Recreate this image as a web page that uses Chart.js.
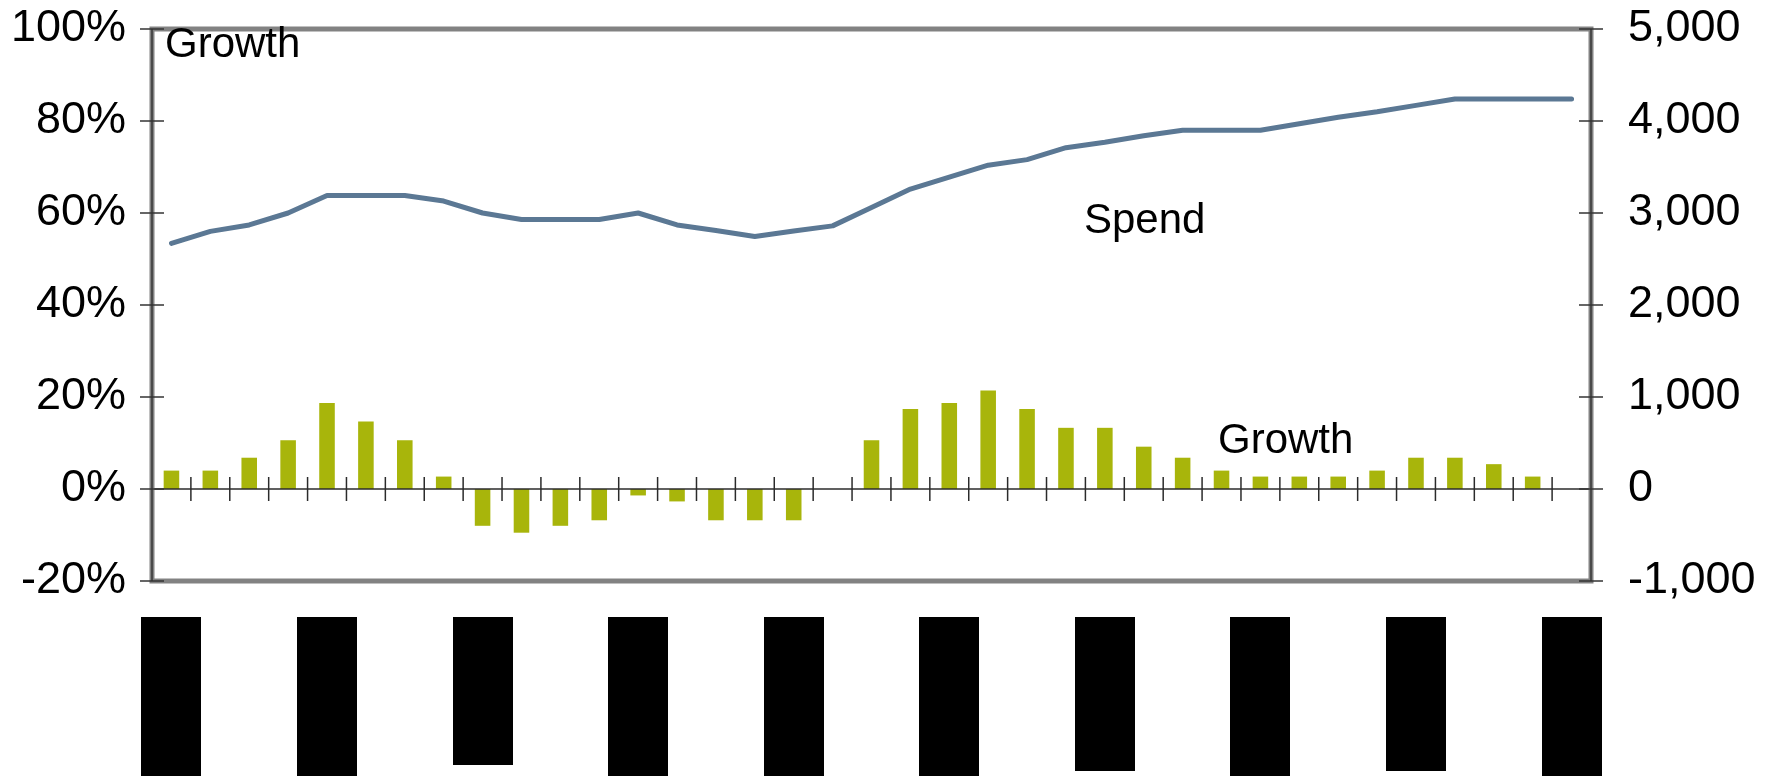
<!DOCTYPE html>
<html>
<head>
<meta charset="utf-8">
<script src="https://cdn.jsdelivr.net/npm/chart.js@4.4.1/dist/chart.umd.min.js"></script>
<style>
  html, body { margin: 0; padding: 0; background: #ffffff; }
  #wrap { width: 1781px; height: 776px; }
</style>
</head>
<body>
<div id="wrap"><canvas id="c" width="1781" height="776"></canvas></div>
<script>
// ---- data ----
const categories = ['P1','P2','P3','P4','P5','P6','P7','P8','P9','P10','P11','P12','P13','P14','P15','P16','P17','P18','P19','P20','P21','P22','P23','P24','P25','P26','P27','P28','P29','P30','P31','P32','P33','P34','P35','P36','P37'];
const growth = [4, 4, 6.8, 10.6, 18.7, 14.7, 10.6, 2.7, -8, -9.5, -8, -6.8, -1.4, -2.7, -6.8, -6.8, -6.8, null, 10.6, 17.4, 18.7, 21.4, 17.4, 13.3, 13.3, 9.2, 6.8, 4, 2.7, 2.7, 2.7, 4, 6.8, 6.8, 5.4, 2.7, null];
const spend = [2670, 2800, 2870, 3000, 3190, 3190, 3190, 3130, 3000, 2930, 2930, 2930, 3000, 2870, 2810, 2745, 2805, 2860, 3060, 3260, 3390, 3520, 3580, 3710, 3770, 3840, 3900, 3900, 3900, 3970, 4040, 4100, 4170, 4240, 4240, 4240, 4240];
const leftTicks = [-20, 0, 20, 40, 60, 80, 100];
const rightTicks = [-1000, 0, 1000, 2000, 3000, 4000, 5000];
const annotations = [
  { text: 'Growth', x: 165, y: 57 },
  { text: 'Spend', x: 1084, y: 233 },
  { text: 'Growth', x: 1218, y: 453 }
];
// redacted x-axis labels (every 4th category), drawn as black boxes
const redactedEvery = 4;
const redactBottoms = [776, 776, 765, 776, 776, 776, 771, 776, 771, 776];

const FONT = '"Liberation Sans", Arial, sans-serif';

const decor = {
  id: 'decor',
  afterDatasetsDraw(chart) {
    const ctx = chart.ctx;
    const a = chart.chartArea;
    const x = chart.scales.x, y = chart.scales.y, y1 = chart.scales.y1;
    ctx.save();
    // zero line
    const y0 = y.getPixelForValue(0);
    ctx.strokeStyle = '#2b2b2b';
    ctx.lineWidth = 1.6;
    ctx.beginPath(); ctx.moveTo(a.left, y0); ctx.lineTo(a.right, y0); ctx.stroke();
    // category boundary ticks crossing the zero line
    ctx.lineWidth = 1.5;
    for (let i = 1; i < categories.length; i++) {
      const bx = (x.getPixelForValue(i - 1) + x.getPixelForValue(i)) / 2;
      ctx.beginPath(); ctx.moveTo(bx, y0 - 12); ctx.lineTo(bx, y0 + 12); ctx.stroke();
    }
    // plot box
    ctx.strokeStyle = '#828282';
    ctx.lineWidth = 5;
    ctx.strokeRect(a.left, a.top, a.right - a.left, a.bottom - a.top);
    ctx.strokeStyle = '#4a4a4a';
    ctx.lineWidth = 2;
    ctx.beginPath();
    ctx.moveTo(a.left, a.top); ctx.lineTo(a.left, a.bottom);
    ctx.moveTo(a.right, a.top); ctx.lineTo(a.right, a.bottom);
    ctx.stroke();
    // y ticks crossing the axes
    ctx.strokeStyle = '#333333';
    ctx.lineWidth = 1.5;
    leftTicks.forEach(v => {
      const py = y.getPixelForValue(v);
      ctx.beginPath(); ctx.moveTo(a.left - 12, py); ctx.lineTo(a.left + 12, py); ctx.stroke();
    });
    rightTicks.forEach(v => {
      const py = y1.getPixelForValue(v);
      ctx.beginPath(); ctx.moveTo(a.right - 12, py); ctx.lineTo(a.right + 12, py); ctx.stroke();
    });
    ctx.restore();
  },
  afterDraw(chart) {
    const ctx = chart.ctx;
    const a = chart.chartArea;
    const x = chart.scales.x;
    ctx.save();
    ctx.fillStyle = '#000';
    ctx.font = '42px ' + FONT;
    ctx.textBaseline = 'alphabetic';
    ctx.textAlign = 'left';
    annotations.forEach(t => ctx.fillText(t.text, t.x, t.y));
    // redacted category labels
    let j = 0;
    for (let i = 0; i < categories.length; i += redactedEvery) {
      const cx = x.getPixelForValue(i);
      const top = a.bottom + 36;
      const bottom = redactBottoms[j++] || 776;
      ctx.fillRect(Math.round(cx - 30), top, 60, bottom - top);
    }
    ctx.restore();
  }
};

function fixY(width) {
  return function (s) { s.width = width; s.paddingTop = 0; s.paddingBottom = 0; };
}

new Chart(document.getElementById('c'), {
  data: {
    labels: categories,
    datasets: [
      {
        type: 'line',
        label: 'Spend',
        data: spend,
        yAxisID: 'y1',
        borderColor: '#5b7894',
        borderWidth: 5,
        pointRadius: 0,
        tension: 0,
        borderCapStyle: 'round',
        borderJoinStyle: 'round',
        order: 0
      },
      {
        type: 'bar',
        label: 'Growth',
        data: growth,
        yAxisID: 'y',
        backgroundColor: '#a8b50b',
        borderWidth: 0,
        barPercentage: 0.4,
        categoryPercentage: 1.0,
        order: 1
      }
    ]
  },
  options: {
    responsive: false,
    animation: false,
    devicePixelRatio: 1,
    layout: { padding: { top: 29, left: 0, right: 0, bottom: 0 } },
    plugins: { legend: { display: false }, tooltip: { enabled: false } },
    scales: {
      x: {
        type: 'category',
        offset: true,
        grid: { display: false, drawTicks: false },
        border: { display: false },
        ticks: { display: false },
        afterFit(s) { s.height = 195; s.paddingLeft = 0; s.paddingRight = 0; }
      },
      y: {
        position: 'left',
        min: -20, max: 100,
        grid: { display: false, drawTicks: false },
        border: { display: false },
        afterBuildTicks(s) { s.ticks = leftTicks.map(v => ({ value: v })); },
        ticks: {
          padding: 26,
          color: '#000',
          font: { family: FONT, size: 45 },
          callback: v => v + '%'
        },
        afterFit: fixY(152)
      },
      y1: {
        position: 'right',
        min: -1000, max: 5000,
        grid: { display: false, drawTicks: false },
        border: { display: false },
        afterBuildTicks(s) { s.ticks = rightTicks.map(v => ({ value: v })); },
        ticks: {
          padding: 37,
          color: '#000',
          font: { family: FONT, size: 45 },
          callback: v => v.toLocaleString('en-US')
        },
        afterFit: fixY(190)
      }
    }
  },
  plugins: [decor]
});
</script>
</body>
</html>
